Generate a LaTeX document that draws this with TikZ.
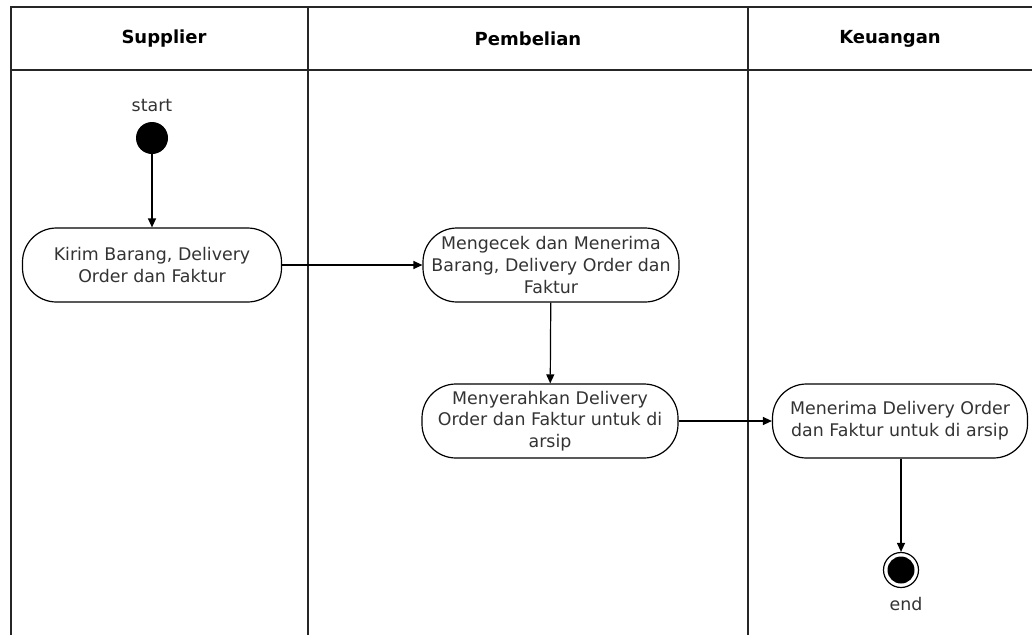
\documentclass[tikz,border=0pt]{standalone}
\usepackage{fontspec}
\setmainfont{DejaVu Sans}
\usetikzlibrary{arrows.meta}
\begin{document}
\begin{tikzpicture}[x=1pt,y=-1pt,
  lane/.style={line width=1.5pt,draw=black!85},
  act/.style={draw,line width=1.2pt,rectangle,rounded corners=34pt,
    minimum width=256pt,minimum height=74pt,align=center,inner sep=0pt,
    font=\fontsize{17.4}{21.8}\selectfont,text=black!80},
  lbl/.style={font=\fontsize{17.4}{20}\selectfont,text=black!80},
  hdr/.style={font=\bfseries\fontsize{18}{20}\selectfont},
  flow/.style={line width=1.2pt,-{Triangle[length=9pt,width=8pt]}},
]
\useasboundingbox (0,0) rectangle (1032,635);
% swimlane frame
\draw[lane] (11,635) -- (11,7) -- (1032,7);
\draw[lane] (11,70) -- (1032,70);
\draw[lane] (308,7) -- (308,635);
\draw[lane] (748,7) -- (748,635);
% lane headers
\node[hdr] (hsup) at (164,39) {Supplier};
\node[hdr] (hpem) at (528,39) {Pembelian};
\node[hdr] (hkeu) at (890,39) {Keuangan};
% start
\node[lbl] (startlbl) at (152,106) {start};
\node[circle,fill=black,minimum size=32pt,inner sep=0pt] (start) at (152,138) {};
% activities
\node[act,minimum width=259pt] (kirim) at (152,265) {Kirim Barang, Delivery\\Order dan Faktur};
\node[act] (cek) at (551,265) {Mengecek dan Menerima\\Barang, Delivery Order dan\\Faktur};
\node[act] (serah) at (550,421) {Menyerahkan Delivery\\Order dan Faktur untuk di\\arsip};
\node[act,minimum width=255pt] (terima) at (900,421) {Menerima Delivery Order\\dan Faktur untuk di arsip};
% end
\node[circle,draw,line width=1.2pt,minimum size=35pt,inner sep=0pt] (end) at (901,570) {};
\node[circle,fill=black,minimum size=27pt,inner sep=0pt] (endin) at (901,570) {};
\node[lbl] (endlbl) at (906,604) {end};
% flows
\draw[flow] (start) -- (kirim);
\draw[flow] (kirim) -- (cek);
\draw[flow] (cek) -- (serah);
\draw[flow] (serah) -- (terima);
\draw[flow] (terima.south -| end) -- (end);
\end{tikzpicture}
\end{document}
